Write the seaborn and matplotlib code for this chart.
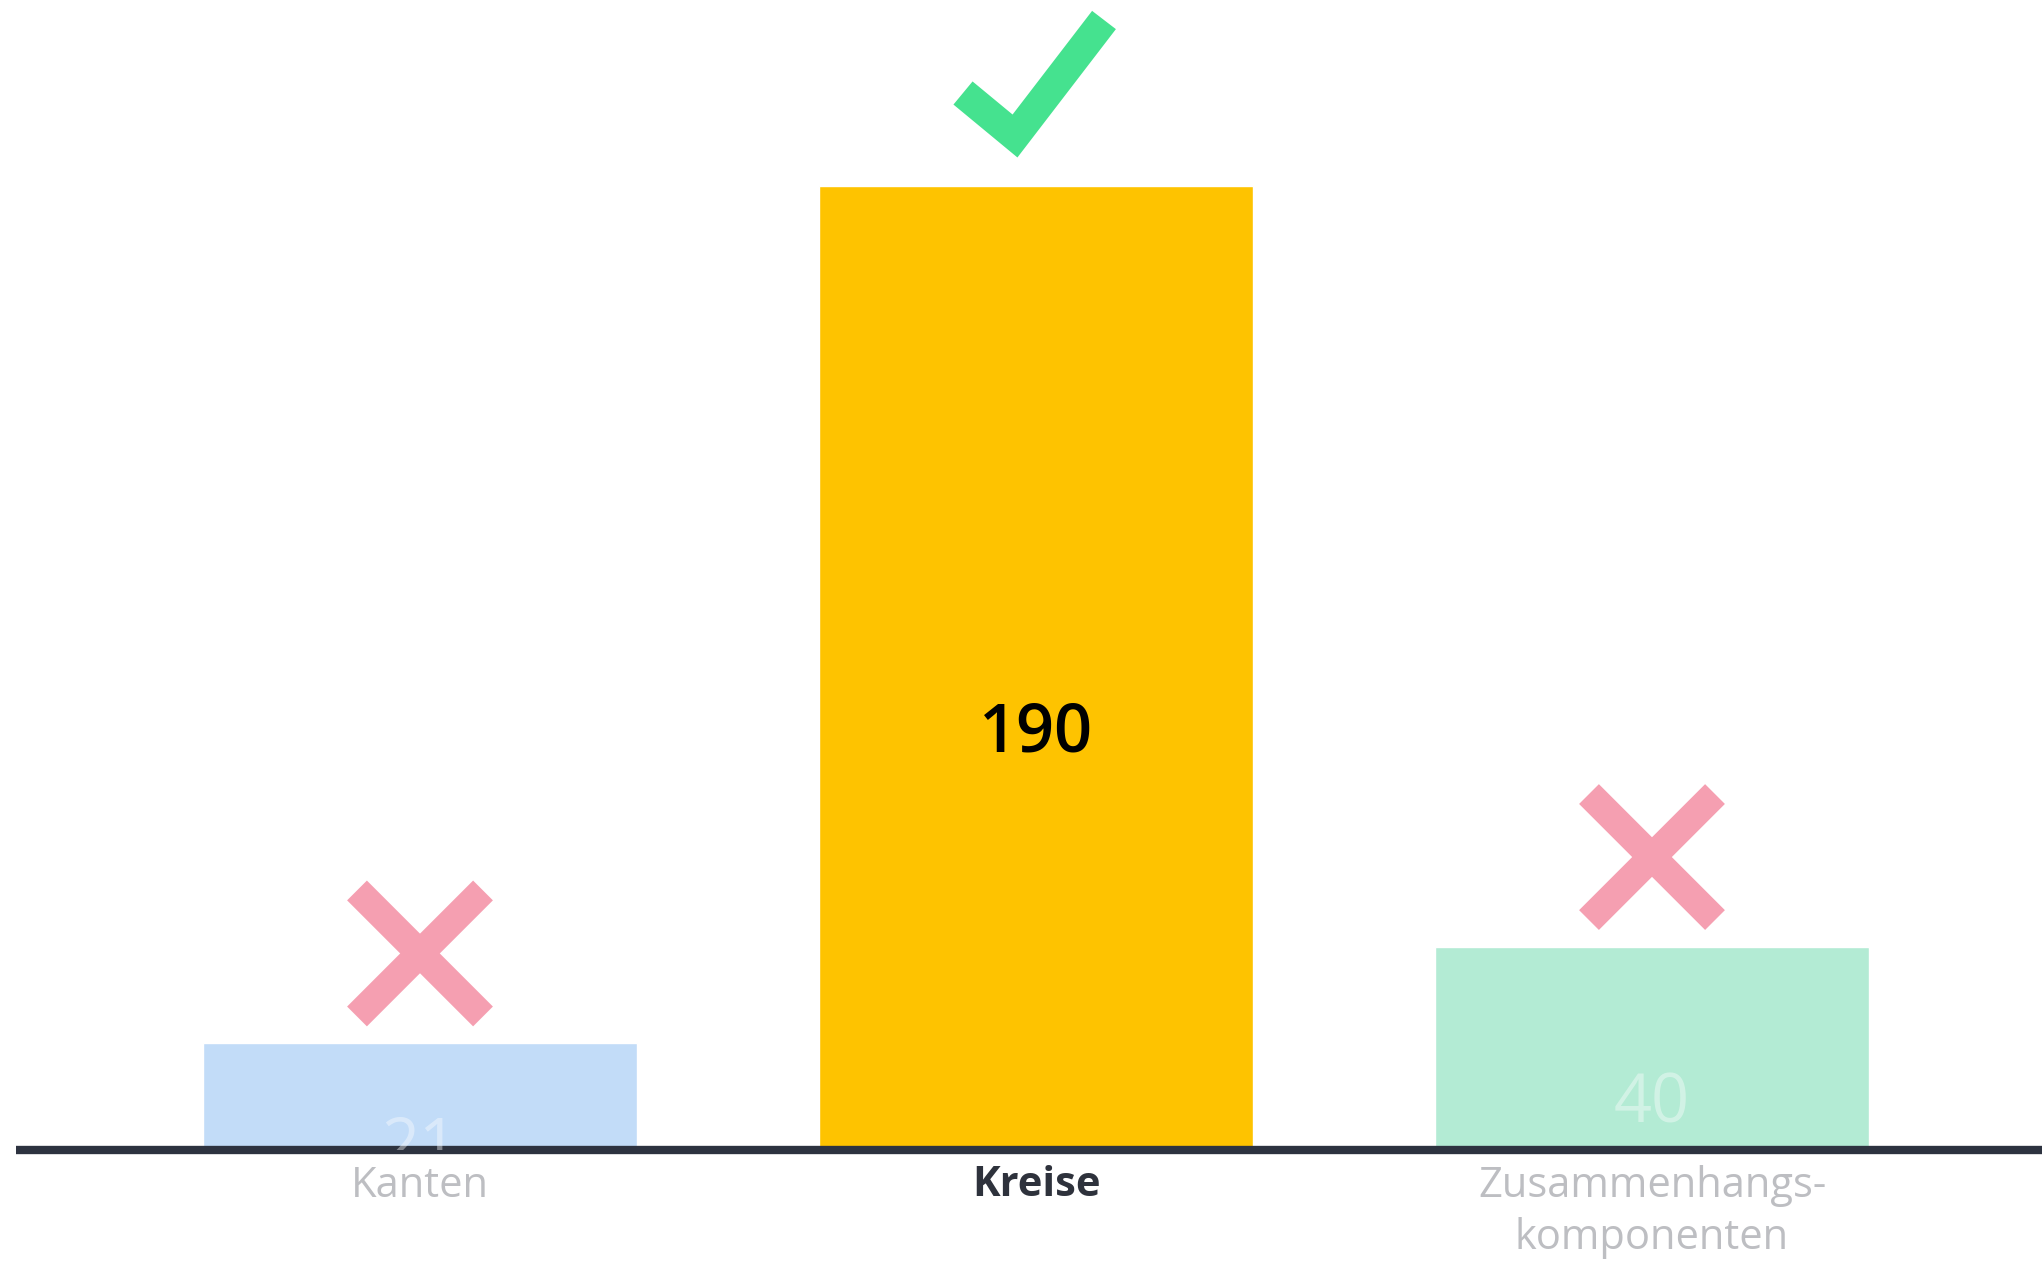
import numpy as np
import pandas as pd
import matplotlib
matplotlib.use("Agg")
import matplotlib.pyplot as plt
from matplotlib.lines import Line2D
from matplotlib.transforms import Affine2D, ScaledTranslation
import seaborn as sns

# Data
categories = ["Kanten", "Kreise", "Zusammenhangs-\nkomponenten"]
values = [21, 190, 40]
correct = [False, True, False]

bar_colors = ["#c2dcf8", "#fec300", "#b3ebd4"]
tick_colors = ["#bdbec2", "#2e323c", "#bdbec2"]
tick_weights = ["normal", "bold", "normal"]
label_colors = [(1, 1, 1, 0.40), (0, 0, 0, 1.0), (1, 1, 1, 0.40)]
label_weights = ["normal", "semibold", "normal"]
label_offsets_px = [-52, -66, -56]

sns.set_theme(style="white")
plt.rcParams["font.family"] = ["Open Sans", "DejaVu Sans"]

W, H, DPI = 2042, 1266, 100
fig = plt.figure(figsize=(W / DPI, H / DPI), dpi=DPI, facecolor="white")

base_px = 1150          # baseline position from the top
px_per_unit = (base_px - 186) / 190.0
ax = fig.add_axes([0, (H - base_px) / H, 1, base_px / H])
ax.set_facecolor("white")

df = pd.DataFrame({"cat": categories, "val": values})
sns.barplot(data=df, x="cat", y="val", hue="cat", palette=bar_colors,
            width=0.705, legend=False, saturation=1, ax=ax, zorder=1)

spacing = 616.0
centre0 = 420.0
ax.set_xlim(-centre0 / spacing, (W - centre0) / spacing)
ax.set_ylim(0, base_px / px_per_unit)

for s in ax.spines.values():
    s.set_visible(False)
ax.set_yticks([])
ax.set_xlabel("")
ax.set_ylabel("")
ax.tick_params(axis="x", length=0, pad=11)
ax.set_xticks(range(len(categories)))
ax.set_xticklabels(categories, fontsize=30, linespacing=1.31)
for lbl, c, w in zip(ax.get_xticklabels(), tick_colors, tick_weights):
    lbl.set_color(c)
    lbl.set_fontweight(w)

# baseline
ax.axhline(0, xmin=16 / W, xmax=1, color="#2d3340", lw=6, zorder=3,
           clip_on=False, solid_capstyle="butt")

# value labels (clipped at the baseline)
for i, v in enumerate(values):
    ax.annotate(str(v), xy=(i, v / 2), xytext=(0, label_offsets_px[i] * 72 / DPI),
                textcoords="offset points", ha="center", va="center",
                fontsize=48, color=label_colors[i], fontweight=label_weights[i],
                zorder=5, annotation_clip=False, clip_on=True)


def draw_path(x, y, pts, color, lw_px):
    tr = Affine2D() + ScaledTranslation(x, y, ax.transData)
    xs, ys = zip(*pts)
    ln = Line2D(xs, ys, transform=tr, color=color, lw=lw_px * 72 / DPI,
                solid_capstyle="butt", solid_joinstyle="miter", clip_on=False,
                zorder=6)
    ax.add_line(ln)


for i, (v, ok) in enumerate(zip(values, correct)):
    if ok:
        draw_path(i, v, [(-73, 93), (-21, 50), (68, 166)], "#45e28f", 30)
    else:
        cx, cy, r = 0, 90, 63
        draw_path(i, v, [(cx - r, cy - r), (cx + r, cy + r)], "#f59fb1", 28)
        draw_path(i, v, [(cx - r, cy + r), (cx + r, cy - r)], "#f59fb1", 28)

fig.savefig("out.png", dpi=DPI, facecolor="white")
